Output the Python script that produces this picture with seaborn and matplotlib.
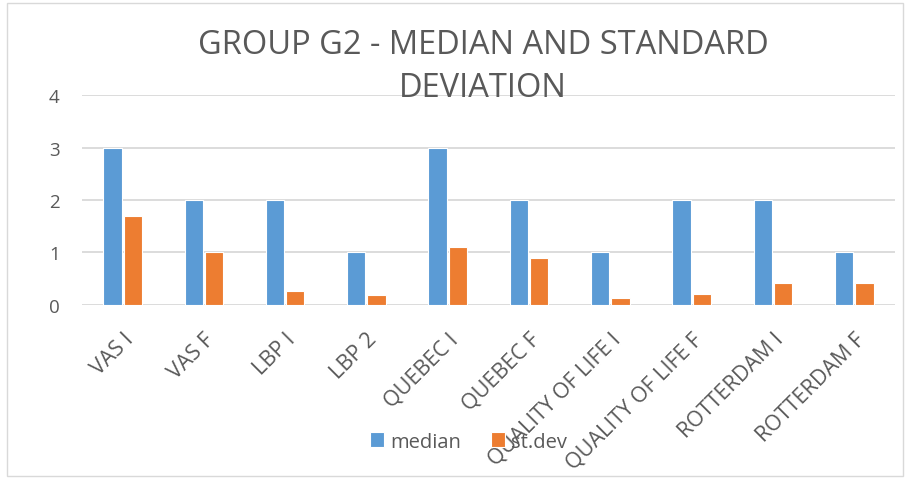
import pandas as pd
import matplotlib
matplotlib.use("Agg")
import matplotlib.pyplot as plt
import seaborn as sns
from matplotlib.patches import Rectangle

categories = ["VAS I", "VAS F", "LBP I", "LBP 2", "QUEBEC I", "QUEBEC F",
              "QUALITY OF LIFE I", "QUALITY OF LIFE F", "ROTTERDAM I", "ROTTERDAM F"]
median = [3, 2, 2, 1, 3, 2, 1, 2, 2, 1]
std_dev = [1.70, 1.0, 0.27, 0.18, 1.11, 0.90, 0.14, 0.20, 0.41, 0.41]

data = pd.DataFrame({
    "category": categories * 2,
    "value": median + std_dev,
    "series": ["median"] * len(categories) + ["st.dev"] * len(categories),
})

sns.set_theme(style="white")
plt.rcParams["font.family"] = ["Open Sans", "DejaVu Sans"]
text_col = "#595959"

fig = plt.figure(figsize=(9.1, 4.81), dpi=100)
ax = fig.add_axes([0.090, 0.364, 0.8935, 0.436])

sns.barplot(data=data, x="category", y="value", hue="series",
            palette=["#5B9BD5", "#ED7D31"], saturation=1, width=0.5, gap=0.1,
            edgecolor="white", linewidth=0.8, ax=ax, legend=True)

ax.set_ylim(0, 4)
ax.set_yticks([0, 1, 2, 3, 4])
ax.set_xlim(-0.5, len(categories) - 0.5)
ax.yaxis.grid(True, color="#D9D9D9", linewidth=1.3)
ax.set_axisbelow(True)
for s in ax.spines.values():
    s.set_visible(False)
ax.set_xlabel("")
ax.set_ylabel("")
ax.tick_params(axis="y", labelsize=13.5, colors=text_col, pad=16, length=0)
ax.tick_params(axis="x", labelsize=15.5, colors=text_col, length=0, pad=17)
plt.setp(ax.get_xticklabels(), rotation=45, ha="right", rotation_mode="anchor")

handles, labels = ax.get_legend_handles_labels()
ax.get_legend().remove()
fig.legend(handles, labels, loc="center", bbox_to_anchor=(0.515, 0.08), ncol=2,
           frameon=False, fontsize=14.5, labelcolor=text_col, handlelength=0.7,
           handleheight=0.7, handletextpad=0.3, columnspacing=1.5)

fig.text(0.531, 0.906, "GROUP G2 - MEDIAN AND STANDARD", ha="center", va="center",
         fontsize=23.5, color=text_col)
fig.text(0.531, 0.816, "DEVIATION", ha="center", va="center",
         fontsize=23.5, color=text_col)

fig.patches.append(Rectangle((0.008, 0.008), 0.984, 0.984, transform=fig.transFigure,
                             fill=False, edgecolor="#D9D9D9", linewidth=1))

fig.savefig("out.png", dpi=100)
